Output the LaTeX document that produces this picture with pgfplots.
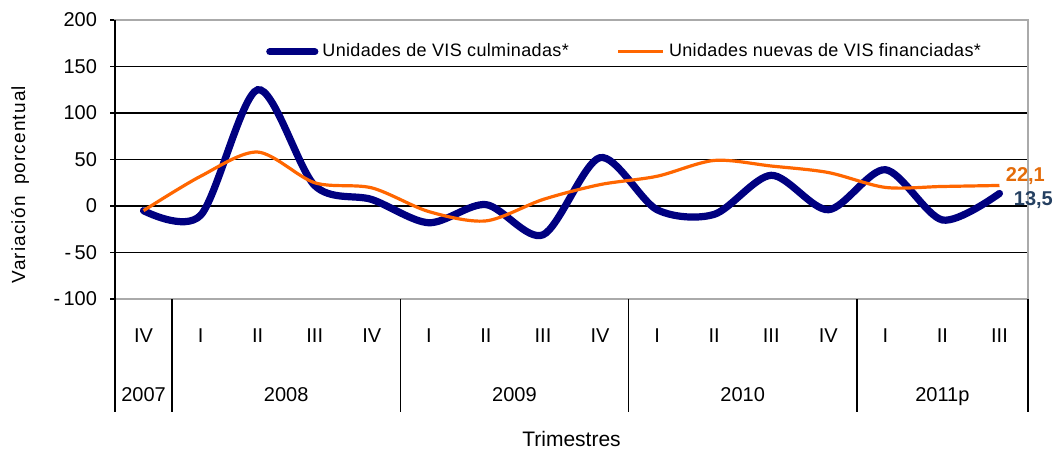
\documentclass[border=0pt]{standalone}
\usepackage{pgfplots}
\pgfplotsset{compat=1.18}
\usepackage{fontspec}
\setmainfont{Liberation Sans}
\definecolor{bluevis}{RGB}{0,0,128}
\definecolor{orangevis}{RGB}{255,102,0}
\definecolor{lblorange}{RGB}{228,108,10}
\definecolor{lblblue}{RGB}{37,64,97}
\definecolor{bordergray}{RGB}{170,170,170}
\begin{document}
\begin{tikzpicture}
\useasboundingbox (-57.5pt,-75.5pt) rectangle (469pt,149.5pt);
\begin{axis}[
  at={(0,0)}, anchor=south west,
  scale only axis,
  width=456.5pt, height=139.5pt,
  xmin=-0.5, xmax=15.5,
  ymin=-100, ymax=200,
  ytick={-100,-50,0,50,100,150,200},
  yticklabels={-\,100,-\,50,0,50,100,150,200},
  yticklabel style={font=\fontsize{10}{11}\selectfont, xshift=-3pt},
  ytick align=outside, ytick pos=left,
  major tick length=2.5pt,
  ytick style={black, line width=0.6pt},
  xtick={0,...,15},
  xticklabels={IV,I,II,III,IV,I,II,III,IV,I,II,III,IV,I,II,III},
  xtick style={draw=none},
  xticklabel style={font=\fontsize{10}{11}\selectfont, anchor=base, yshift=-21.5pt},
  ymajorgrids,
  grid style={black, line width=0.65pt},
  axis line style={bordergray, line width=0.8pt},
  clip=false,
  legend style={draw=none, fill=none, at={(rel axis cs:0.163,0.886)}, anchor=west,
    legend columns=2, font=\fontsize{9}{10}\selectfont\addfontfeature{LetterSpace=2}, inner sep=1pt,
    /tikz/every even column/.append style={column sep=22pt}},
  legend image code/.code={\draw[#1] (0pt,0pt) -- (22.5pt,0pt);},
]
\addplot[bluevis, line width=3.6pt, smooth, line cap=round] coordinates {
 (0,-5) (1,-10) (2,125) (3,22) (4,7) (5,-18) (6,1.5) (7,-31) (8,52) (9,-4) (10,-9) (11,33) (12,-4) (13,39) (14,-15) (15,13.5)};
\addlegendentry{Unidades de VIS culminadas*}
\addplot[orangevis, line width=1.6pt, smooth] coordinates {
 (0,-5) (1,32) (2,58) (3,25) (4,19.5) (5,-6) (6,-16) (7,7) (8,23) (9,32) (10,49) (11,43) (12,36) (13,20) (14,21) (15,22.1)};
\addlegendentry{Unidades nuevas de VIS financiadas*}
% left axis line in black
\draw[black, line width=0.8pt] (rel axis cs:0,1) -- ([yshift=-56.5pt]rel axis cs:0,0);
% category separators
\draw[black, line width=0.8pt] (axis cs:0.5,-100) -- ([yshift=-56.5pt]axis cs:0.5,-100);
\draw[black, line width=0.8pt] (axis cs:4.5,-100) -- ([yshift=-56.5pt]axis cs:4.5,-100);
\draw[black, line width=0.8pt] (axis cs:8.5,-100) -- ([yshift=-56.5pt]axis cs:8.5,-100);
\draw[black, line width=0.8pt] (axis cs:12.5,-100) -- ([yshift=-56.5pt]axis cs:12.5,-100);
\draw[black, line width=0.8pt] (axis cs:15.5,-100) -- ([yshift=-56.5pt]axis cs:15.5,-100);
% year labels
\node[font=\fontsize{10}{11}\selectfont, anchor=base] at ([yshift=-51.3pt]axis cs:0,-100) {2007};
\node[font=\fontsize{10}{11}\selectfont, anchor=base] at ([yshift=-51.3pt]axis cs:2.5,-100) {2008};
\node[font=\fontsize{10}{11}\selectfont, anchor=base] at ([yshift=-51.3pt]axis cs:6.5,-100) {2009};
\node[font=\fontsize{10}{11}\selectfont, anchor=base] at ([yshift=-51.3pt]axis cs:10.5,-100) {2010};
\node[font=\fontsize{10}{11}\selectfont, anchor=base] at ([yshift=-51.3pt]axis cs:14,-100) {2011p};
% data labels
\node[font=\fontsize{10}{12}\selectfont\bfseries, text=lblorange, anchor=west, inner sep=0pt]
  at ([xshift=3pt,yshift=4.5pt]axis cs:15,22.1) {22,1};
\node[font=\fontsize{10}{12}\selectfont\bfseries, text=lblblue, anchor=west, inner sep=0pt]
  at ([xshift=7pt,yshift=-3.5pt]axis cs:15,13.5) {13,5};
% axis titles
\node[font=\fontsize{9.5}{11}\selectfont, rotate=90, anchor=center]
  at ([xshift=-47.5pt]rel axis cs:0,0.41) {\addfontfeature{LetterSpace=6}Variación\hspace{0.6em}porcentual};
\node[font=\fontsize{10.5}{12}\selectfont, anchor=base]
  at ([yshift=-73.8pt]rel axis cs:0.5,0) {Trimestres};
\end{axis}
\end{tikzpicture}
\end{document}
